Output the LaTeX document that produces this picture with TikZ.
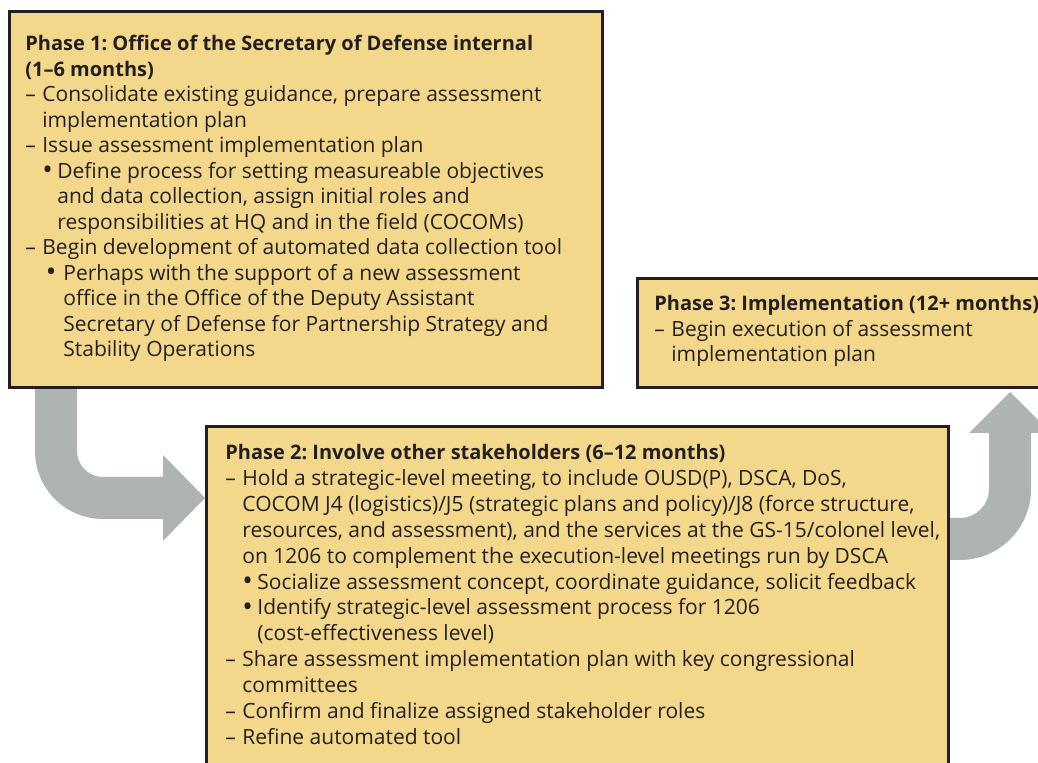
\documentclass[tikz,border=0pt]{standalone}
\usepackage{fontspec}
\setmainfont{Open Sans}
\frenchspacing
\definecolor{boxfill}{RGB}{243,216,139}
\definecolor{boxline}{RGB}{35,31,32}
\definecolor{arrowgrey}{RGB}{174,181,177}
% list markers with fixed widths
\newcommand{\dsh}{\makebox[8.5pt][l]{–}}
\newcommand{\ind}{\hspace*{8.5pt}}
\newcommand{\bul}{\makebox[7.5pt][l]{\raisebox{-0.7pt}{\fontsize{14}{0}\selectfont•}}}
\newcommand{\bulind}{\hspace*{7.5pt}}
\newcommand{\hd}[1]{{\fontsize{10}{12.75}\selectfont\bfseries #1}}

\begin{document}
\begin{tikzpicture}[x=0.5pt,y=0.5pt]
    \tikzset{
        phase/.style={draw=boxline, fill=boxfill, line width=1.5pt, anchor=north west, inner sep=0pt},
        body/.style={anchor=north west, align=left, inner sep=0pt, text=boxline,
            font=\fontsize{10.5}{12.75}\selectfont},
        turn/.style={fill=arrowgrey}
    }
    \clip (0,0) rectangle (1038,-763);

    % grey turn arrows, under the boxes
    \fill[turn] (35,-380) -- (35,-451) arc[start angle=180, end angle=270, radius=68]
        -- (163,-519) -- (163,-541) -- (205,-498) -- (163,-455) -- (163,-477)
        -- (103,-477) arc[start angle=270, end angle=180, radius=26] -- (77,-380) -- cycle;
    \fill[turn] (940,-518) -- (960,-518) arc[start angle=270, end angle=360, radius=29]
        -- (989,-433) -- (969,-433) -- (1010,-392) -- (1051,-433) -- (1031,-433)
        -- (1031,-489) arc[start angle=0, end angle=-90, radius=71] -- (940,-560) -- cycle;

    % the three phases
    \node[phase, minimum width=296.5pt, minimum height=188pt] (p1) at (8,-10) {};
    \node[phase, minimum width=371pt, minimum height=190pt] (p2) at (205,-425) {};
    \node[phase, minimum width=220pt, minimum height=54.5pt] (p3) at (636,-277) {};

    \node[body] (t1) at ([shift={(17,-25)}]p1.north west) {%
        \hd{Phase 1: Office of the Secretary of Defense internal}\\
        \hd{(1–6 months)}\\
        \dsh Consolidate existing guidance, prepare assessment\\
        \ind implementation plan\\
        \dsh Issue assessment implementation plan\\
        \ind\bul Define process for setting measureable objectives\\
        \ind\bulind and data collection, assign initial roles and\\
        \ind\bulind responsibilities at HQ and in the field (COCOMs)\\
        \dsh Begin development of automated data collection tool\\
        \ind\makebox[10.5pt][l]{\,\raisebox{-0.7pt}{\fontsize{14}{0}\selectfont•}}Perhaps with the support of a new assessment\\
        \ind\hspace*{10.5pt}office in the Office of the Deputy Assistant\\
        \ind\hspace*{10.5pt}Secretary of Defense for Partnership Strategy and\\
        \ind\hspace*{10.5pt}Stability Operations};
    \node[body, font=\fontsize{10.5}{12.95}\selectfont] (t2) at ([shift={(20,-19)}]p2.north west) {%
        \hd{Phase 2: Involve other stakeholders (6–12 months)}\\
        \dsh Hold a strategic-level meeting, to include OUSD(P), DSCA, DoS,\\
        \ind COCOM J4 (logistics)/J5 (strategic plans and policy)/J8 (force structure,\\
        \ind resources, and assessment), and the services at the GS-15/colonel level,\\
        \ind on 1206 to complement the execution-level meetings run by DSCA\\
        \ind\bul Socialize assessment concept, coordinate guidance, solicit feedback\\
        \ind\bul Identify strategic-level assessment process for 1206\\
        \ind\bulind (cost-effectiveness level)\\
        \dsh Share assessment implementation plan with key congressional\\
        \ind committees\\
        \dsh Confirm and finalize assigned stakeholder roles\\
        \dsh Refine automated tool};
    \node[body] (t3) at ([shift={(18,-18)}]p3.north west) {%
        \hd{Phase 3: Implementation (12+ months)}\\
        \dsh Begin execution of assessment\\
        \ind implementation plan};
\end{tikzpicture}
\end{document}
